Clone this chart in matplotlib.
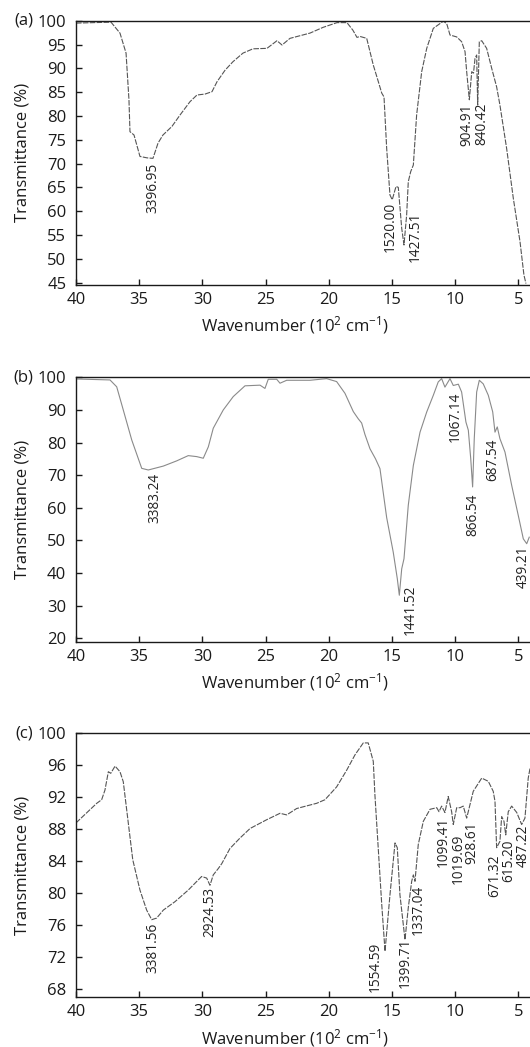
import matplotlib
matplotlib.use("Agg")
import matplotlib.pyplot as plt

plt.rcParams['font.family'] = ['Open Sans', 'DejaVu Sans']
plt.rcParams['mathtext.default'] = 'regular'

# (a) spectrum, wavenumber in 10^2 cm^-1, transmittance in %
wn_a = [40.0, 37.23, 36.52, 36.04, 35.81, 35.73, 35.41, 34.94, 34.38, 33.91,
        33.51, 33.12, 32.41, 31.77, 30.98, 30.43, 29.79, 29.24, 28.84, 28.21,
        27.58, 26.79, 26.0, 24.89, 24.10, 23.70, 23.07, 21.49, 20.46, 19.35,
        18.56, 18.09, 17.77, 17.53, 17.0, 16.48, 16.08, 15.81, 15.63, 15.42,
        15.16, 14.98, 14.68, 14.50, 14.23, 14.05, 13.84, 13.71, 13.52, 13.31,
        13.05, 12.65, 12.25, 11.73, 10.94, 10.67, 10.41, 9.88, 9.49, 9.22,
        9.09, 8.88, 8.69, 8.55, 8.43, 8.30, 8.22, 8.09, 7.90, 7.51,
        7.11, 6.72, 6.46, 5.93, 5.40, 4.87, 4.56, 4.40]
t_a = [99.5, 99.7, 97.4, 93.2, 83.4, 76.7, 76.0, 71.5, 71.2, 71.1,
       74.3, 76.0, 77.8, 80.2, 83.0, 84.4, 84.6, 85.1, 87.2, 89.6,
       91.4, 93.2, 94.1, 94.2, 95.8, 94.9, 96.3, 97.4, 98.6, 99.6,
       99.6, 98.0, 96.5, 96.7, 96.3, 90.7, 87.2, 84.8, 84.0, 73.2,
       63.4, 62.4, 65.2, 65.0, 56.4, 52.9, 59.2, 66.2, 68.3, 69.7,
       80.2, 89.3, 94.2, 98.4, 99.9, 99.4, 97.0, 96.6, 95.6, 93.5,
       89.3, 83.4, 89.3, 89.0, 92.1, 92.8, 82.3, 95.6, 95.8, 94.2,
       90.0, 86.1, 82.3, 73.2, 62.7, 53.6, 46.6, 44.8]
lab_a = ['3396.95', '1520.00', '1427.51', '904.91', '840.42']
lab_a_x = [33.91, 15.16, 13.18, 9.09, 7.90]
lab_a_y = [70.1, 62.0, 59.9, 82.7, 82.7]

# (b)
wn_b = [40.0, 37.31, 36.78, 36.26, 35.59, 34.80, 34.28, 33.09, 32.03, 31.12,
        30.45, 29.93, 29.53, 29.14, 28.35, 27.56, 26.63, 25.44, 25.05, 24.79,
        24.12, 23.86, 23.33, 21.49, 20.17, 19.38, 18.72, 18.06, 17.67, 17.40,
        17.14, 16.74, 16.30, 15.95, 15.42, 14.90, 14.58, 14.42, 14.23, 14.05,
        13.71, 13.31, 12.78, 12.25, 11.73, 11.34, 11.07, 10.81, 10.41, 10.15,
        9.75, 9.49, 9.15, 8.96, 8.77, 8.62, 8.49, 8.30, 8.09, 7.78,
        7.38, 7.03, 6.85, 6.67, 6.46, 6.06, 5.53, 5.01, 4.61, 4.34, 4.14]
t_b = [99.5, 99.2, 97.1, 90.0, 80.8, 72.1, 71.6, 72.8, 74.4, 76.0,
       75.7, 75.2, 78.7, 84.4, 90.0, 94.1, 97.4, 97.6, 96.6, 99.4,
       99.4, 98.2, 99.1, 99.1, 99.6, 98.7, 95.1, 89.5, 87.3, 86.0,
       82.5, 78.1, 75.0, 72.0, 57.0, 46.4, 38.3, 33.2, 41.3, 44.4,
       60.8, 73.0, 83.2, 89.4, 94.5, 98.6, 99.6, 97.0, 99.6, 97.5,
       97.9, 95.5, 86.3, 83.8, 75.1, 66.4, 81.2, 95.5, 99.1, 98.0,
       94.5, 89.4, 83.2, 84.8, 81.2, 77.1, 66.9, 57.7, 50.5, 49.0, 51.0]
lab_b = ['3383.24', '1441.52', '1067.14', '866.54', '687.54', '439.21']
lab_b_x = [33.75, 13.58, 10.02, 8.57, 7.00, 4.61]
lab_b_y = [70.7, 36.5, 95.5, 64.3, 81.2, 48.5]

# (c)
wn_c = [40.0, 38.36, 37.97, 37.71, 37.44, 37.25, 36.91, 36.52, 36.26, 35.86,
        35.51, 34.94, 34.41, 34.01, 33.62, 33.09, 32.17, 31.12, 30.06, 29.66,
        29.40, 29.14, 28.74, 28.47, 27.82, 27.03, 26.23, 24.91, 23.86, 23.33,
        22.54, 20.96, 20.30, 19.38, 18.58, 17.93, 17.27, 16.88, 16.48, 16.35,
        15.81, 15.55, 15.16, 14.76, 14.58, 14.37, 13.97, 13.71, 13.44, 13.31,
        13.18, 12.92, 12.52, 11.99, 11.46, 11.28, 11.07, 10.81, 10.55, 10.28,
        10.15, 9.88, 9.62, 9.36, 9.09, 8.57, 7.90, 7.38, 6.99, 6.85,
        6.72, 6.46, 6.32, 6.14, 6.00, 5.80, 5.53, 5.13, 4.74, 4.48, 4.22, 4.08]
t_c = [88.8, 91.25, 91.7, 92.9, 95.2, 95.0, 95.9, 95.2, 93.95, 88.75,
       84.2, 80.4, 77.9, 76.7, 76.9, 77.9, 78.95, 80.4, 82.1, 81.9,
       81.0, 82.3, 83.1, 83.7, 85.6, 86.9, 88.1, 89.2, 90.0, 89.8,
       90.6, 91.25, 91.7, 93.3, 95.4, 97.3, 98.8, 98.8, 96.5, 92.3,
       78.6, 72.75, 79.8, 86.3, 85.7, 79.8, 74.2, 78.2, 81.5, 82.3,
       81.5, 86.1, 89.0, 90.5, 90.7, 90.2, 90.9, 90.1, 92.1, 90.2,
       88.6, 90.7, 90.7, 90.9, 89.4, 92.75, 94.4, 94.0, 92.75, 91.5,
       85.7, 86.5, 89.6, 89.0, 87.3, 90.2, 90.9, 90.1, 88.6, 89.4, 94.4, 95.6]
lab_c = ['3381.56', '2924.53', '1554.59', '1399.71', '1337.04', '1099.41',
         '1019.69', '928.61', '671.32', '615.20', '487.22']
lab_c_x = [33.91, 29.40, 16.35, 13.97, 12.92, 10.94, 9.75, 8.69, 6.85, 5.80, 4.61]
lab_c_y = [76.3, 80.8, 74.0, 74.4, 81.1, 89.6, 87.5, 89.0, 84.8, 86.7, 88.6]

panels = [
    ('(a)', wn_a, t_a, lab_a, lab_a_x, lab_a_y, (44.5, 100), range(45, 101, 5),
     [0.1434, 0.7278, 0.8566, 0.2524], '#555555', (0, (5, 1.2))),
    ('(b)', wn_b, t_b, lab_b, lab_b_x, lab_b_y, (18.96, 100), range(20, 101, 10),
     [0.1434, 0.3871, 0.8566, 0.2525], '#8a8a8a', '-'),
    ('(c)', wn_c, t_c, lab_c, lab_c_x, lab_c_y, (67, 100), range(68, 101, 4),
     [0.1434, 0.0475, 0.8566, 0.2521], '#555555', (0, (5, 1.2))),
]

fig = plt.figure(figsize=(5.30, 10.47), dpi=100)

for tag, wn, t, labs, lx, ly, ylim, yt, rect, col, ls in panels:
    ax = fig.add_axes(rect)
    ax.plot(wn, t, color=col, lw=0.8, ls=ls)
    ax.set_xlim(40, 4.08)
    ax.set_ylim(*ylim)
    ax.set_xticks([40, 35, 30, 25, 20, 15, 10, 5])
    ax.set_yticks(list(yt))
    ax.tick_params(direction='in', length=4, width=1, labelsize=12, pad=7,
                   colors='#1a1a1a')
    ax.tick_params(axis='x', pad=5)
    for s in ['left', 'bottom', 'top']:
        ax.spines[s].set_linewidth(1.0)
        ax.spines[s].set_color('#1a1a1a')
    ax.spines['right'].set_visible(False)
    ax.set_xlabel('Wavenumber (10$^2$ cm$^{-1}$)', fontsize=12, color='#1a1a1a')
    ax.xaxis.set_label_coords(0.482, -0.112)
    ax.set_ylabel('Transmittance (%)', fontsize=12, color='#1a1a1a')
    ax.yaxis.set_label_coords(-0.101, 0.5)
    for s, x, y in zip(labs, lx, ly):
        ax.text(x, y, s, rotation=90, ha='center', va='top', fontsize=9.8,
                color='#222222')
    ax.text(-0.094, 1.0, tag, transform=ax.transAxes, ha='right', va='center',
            fontsize=12, color='#1a1a1a')

fig.savefig('out.png', dpi=100)
